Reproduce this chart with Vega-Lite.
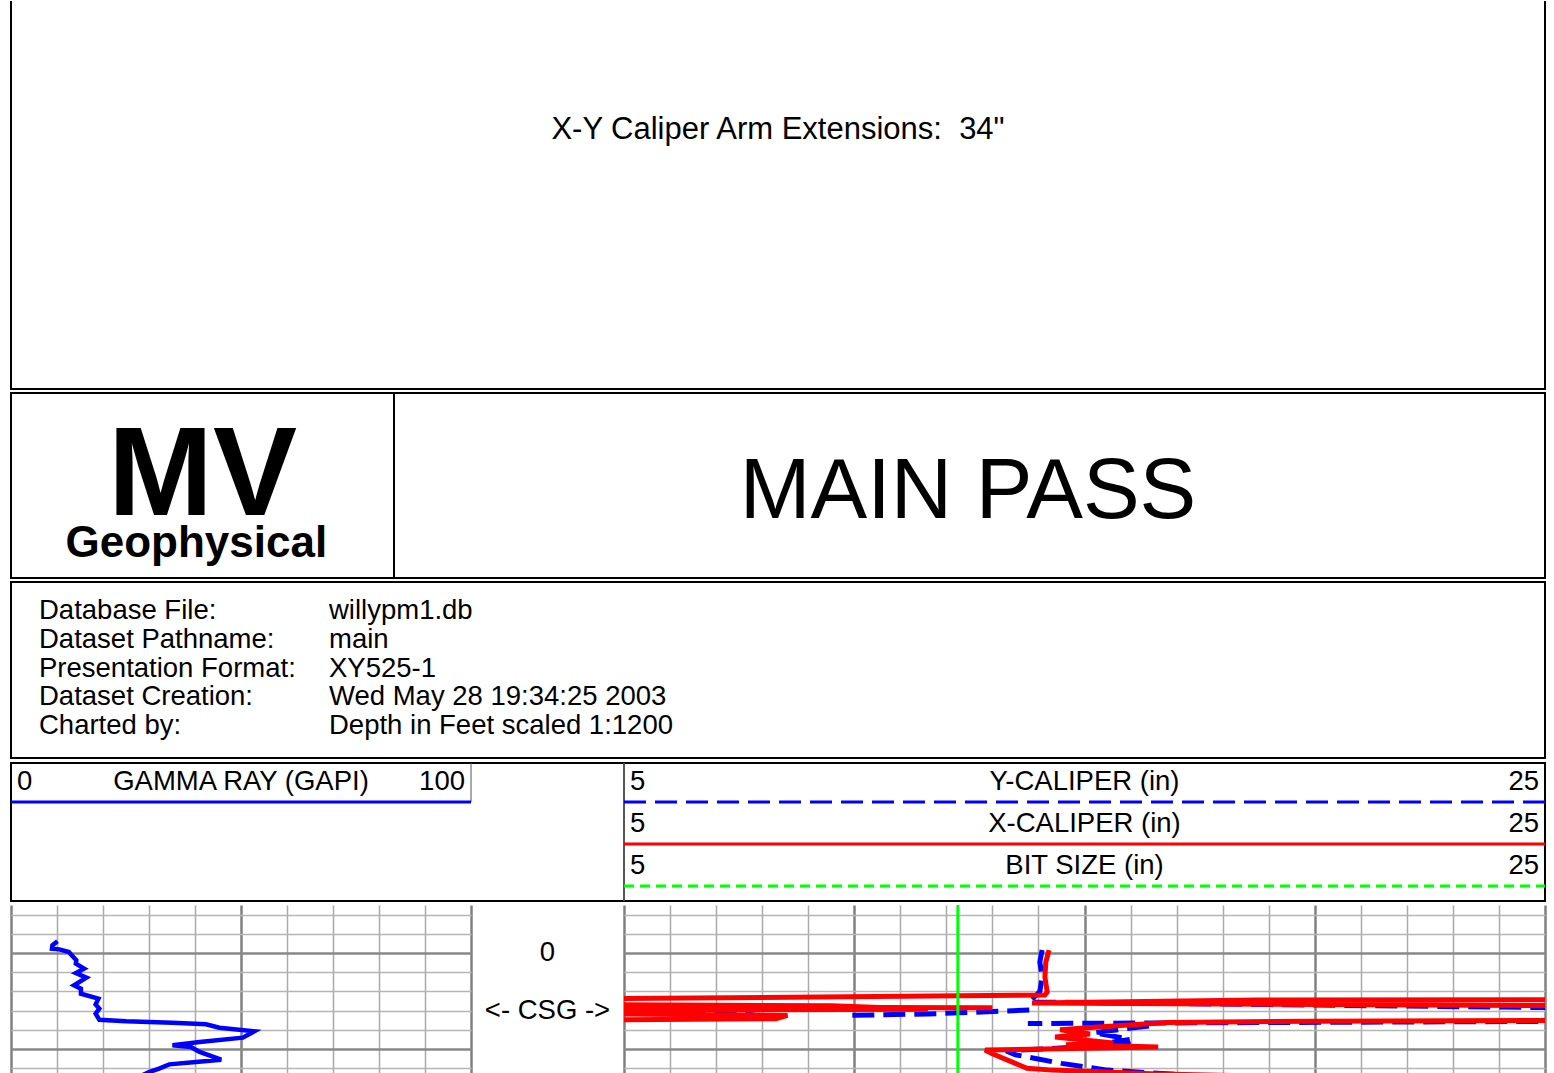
{
  "$schema": "https://vega.github.io/schema/vega-lite/v6.json",
  "background": "white",
  "padding": {"left": 8, "top": 0, "right": 0, "bottom": 0},
  "spacing": 2,
  "config": {
    "view": {"stroke": "black", "strokeWidth": 2},
    "font": "Liberation Sans",
    "text": {"font": "Liberation Sans", "color": "black"}
  },
  "datasets": {
    "legend": [
      {"track": "gamma", "row": 1, "curve": "GAMMA RAY (GAPI)", "lo": 0, "mid": 50, "hi": 100},
      {"track": "cal", "row": 1, "curve": "Y-CALIPER (in)", "lo": 5, "mid": 15, "hi": 25},
      {"track": "cal", "row": 2, "curve": "X-CALIPER (in)", "lo": 5, "mid": 15, "hi": 25},
      {"track": "cal", "row": 3, "curve": "BIT SIZE (in)", "lo": 5, "mid": 15, "hi": 25}
    ],
    "info": [
      {"line": 1, "label": "Database File:", "value": "willypm1.db"},
      {"line": 2, "label": "Dataset Pathname:", "value": "main"},
      {"line": 3, "label": "Presentation Format:", "value": "XY525-1"},
      {"line": 4, "label": "Dataset Creation:", "value": "Wed May 28 19:34:25 2003"},
      {"line": 5, "label": "Charted by:", "value": "Depth in Feet scaled 1:1200"}
    ],
    "gamma": [
      {"depth": -1.22, "gr": 10.1}, {"depth": -0.8, "gr": 9.0}, {"depth": -0.45, "gr": 8.9},
      {"depth": -0.38, "gr": 10.5}, {"depth": -0.1, "gr": 12.6}, {"depth": 0.35, "gr": 13.4},
      {"depth": 0.76, "gr": 14.2}, {"depth": 1.11, "gr": 14.1}, {"depth": 1.63, "gr": 15.9},
      {"depth": 2.08, "gr": 14.1}, {"depth": 2.57, "gr": 16.4}, {"depth": 3.37, "gr": 13.7},
      {"depth": 3.72, "gr": 15.2}, {"depth": 4.24, "gr": 15.2}, {"depth": 4.76, "gr": 19.0},
      {"depth": 5.35, "gr": 18.4}, {"depth": 5.8, "gr": 19.2}, {"depth": 6.32, "gr": 18.4},
      {"depth": 6.95, "gr": 19.2}, {"depth": 7.12, "gr": 25.0}, {"depth": 7.26, "gr": 35.1},
      {"depth": 7.43, "gr": 42.4}, {"depth": 7.78, "gr": 45.3}, {"depth": 8.16, "gr": 52.9},
      {"depth": 8.82, "gr": 50.4}, {"depth": 9.27, "gr": 41.0}, {"depth": 9.61, "gr": 35.1},
      {"depth": 9.79, "gr": 39.1}, {"depth": 10.31, "gr": 41.0}, {"depth": 11.11, "gr": 45.7},
      {"depth": 11.35, "gr": 40.2}, {"depth": 11.6, "gr": 34.4}, {"depth": 12.05, "gr": 32.2},
      {"depth": 12.4, "gr": 30.0}, {"depth": 12.74, "gr": 28.5}, {"depth": 13.2, "gr": 27.5}
    ],
    "caliper": [
      {"curve": "X-CALIPER", "seg": "r1", "depth": -0.31, "inches": 14.23},
      {"curve": "X-CALIPER", "seg": "r1", "depth": 0.94, "inches": 14.16},
      {"curve": "X-CALIPER", "seg": "r1", "depth": 2.5, "inches": 14.14},
      {"curve": "X-CALIPER", "seg": "r1", "depth": 4.06, "inches": 14.19},
      {"curve": "X-CALIPER", "seg": "r1", "depth": 4.38, "inches": 14.14},
      {"curve": "X-CALIPER", "seg": "r1", "depth": 4.8, "inches": 3.6},
      {"curve": "X-CALIPER", "seg": "r2", "depth": 4.85, "inches": 26.2},
      {"curve": "X-CALIPER", "seg": "r2", "depth": 4.9, "inches": 18.75},
      {"curve": "X-CALIPER", "seg": "r2", "depth": 5.2, "inches": 13.86},
      {"curve": "X-CALIPER", "seg": "r2", "depth": 5.5, "inches": 26.2},
      {"curve": "X-CALIPER", "seg": "r3", "depth": 5.35, "inches": 3.6},
      {"curve": "X-CALIPER", "seg": "r3", "depth": 5.5, "inches": 9.5},
      {"curve": "X-CALIPER", "seg": "r3", "depth": 5.85, "inches": 11.6},
      {"curve": "X-CALIPER", "seg": "r3", "depth": 6.0, "inches": 3.6},
      {"curve": "X-CALIPER", "seg": "r6", "depth": 5.62, "inches": 3.6},
      {"curve": "X-CALIPER", "seg": "r6", "depth": 5.7, "inches": 13.0},
      {"curve": "X-CALIPER", "seg": "r4", "depth": 6.3, "inches": 3.6},
      {"curve": "X-CALIPER", "seg": "r4", "depth": 6.5, "inches": 8.55},
      {"curve": "X-CALIPER", "seg": "r4", "depth": 6.85, "inches": 8.3},
      {"curve": "X-CALIPER", "seg": "r4", "depth": 7.0, "inches": 3.6},
      {"curve": "X-CALIPER", "seg": "r5", "depth": 7.0, "inches": 26.2},
      {"curve": "X-CALIPER", "seg": "r5", "depth": 7.1, "inches": 20.0},
      {"curve": "X-CALIPER", "seg": "r5", "depth": 7.25, "inches": 16.8},
      {"curve": "X-CALIPER", "seg": "r5", "depth": 7.7, "inches": 15.3},
      {"curve": "X-CALIPER", "seg": "r5", "depth": 8.0, "inches": 14.47},
      {"curve": "X-CALIPER", "seg": "r5", "depth": 8.44, "inches": 15.12},
      {"curve": "X-CALIPER", "seg": "r5", "depth": 8.75, "inches": 14.36},
      {"curve": "X-CALIPER", "seg": "r5", "depth": 9.38, "inches": 15.62},
      {"curve": "X-CALIPER", "seg": "r5", "depth": 9.55, "inches": 14.6},
      {"curve": "X-CALIPER", "seg": "r5", "depth": 9.8, "inches": 16.6},
      {"curve": "X-CALIPER", "seg": "r5", "depth": 10.1, "inches": 12.84},
      {"curve": "X-CALIPER", "seg": "r5", "depth": 10.5, "inches": 13.0},
      {"curve": "X-CALIPER", "seg": "r5", "depth": 12.0, "inches": 13.75},
      {"curve": "X-CALIPER", "seg": "r5", "depth": 12.2, "inches": 14.3},
      {"curve": "X-CALIPER", "seg": "r5", "depth": 12.6, "inches": 16.6},
      {"curve": "X-CALIPER", "seg": "r5", "depth": 12.85, "inches": 19.0},
      {"curve": "X-CALIPER", "seg": "r5", "depth": 13.2, "inches": 21.0},
      {"curve": "Y-CALIPER", "seg": "b1", "depth": -0.31, "inches": 14.08},
      {"curve": "Y-CALIPER", "seg": "b1", "depth": 0.94, "inches": 14.03},
      {"curve": "Y-CALIPER", "seg": "b1", "depth": 2.5, "inches": 14.08},
      {"curve": "Y-CALIPER", "seg": "b1", "depth": 4.0, "inches": 14.03},
      {"curve": "Y-CALIPER", "seg": "b1", "depth": 4.4, "inches": 13.95},
      {"curve": "Y-CALIPER", "seg": "b1", "depth": 5.1, "inches": 13.8},
      {"curve": "Y-CALIPER", "seg": "b1", "depth": 5.75, "inches": 26.2},
      {"curve": "Y-CALIPER", "seg": "b2", "depth": 5.9, "inches": 3.6},
      {"curve": "Y-CALIPER", "seg": "b2", "depth": 6.15, "inches": 7.4},
      {"curve": "Y-CALIPER", "seg": "b2", "depth": 6.75, "inches": 8.2},
      {"curve": "Y-CALIPER", "seg": "b3", "depth": 5.95, "inches": 13.8},
      {"curve": "Y-CALIPER", "seg": "b3", "depth": 6.35, "inches": 11.6},
      {"curve": "Y-CALIPER", "seg": "b3", "depth": 6.5, "inches": 9.8},
      {"curve": "Y-CALIPER", "seg": "b4", "depth": 7.1, "inches": 26.2},
      {"curve": "Y-CALIPER", "seg": "b4", "depth": 7.35, "inches": 13.77},
      {"curve": "Y-CALIPER", "seg": "b5", "depth": 7.6, "inches": 16.4},
      {"curve": "Y-CALIPER", "seg": "b5", "depth": 8.3, "inches": 15.2},
      {"curve": "Y-CALIPER", "seg": "b5", "depth": 9.0, "inches": 15.99},
      {"curve": "Y-CALIPER", "seg": "b5", "depth": 9.3, "inches": 15.6},
      {"curve": "Y-CALIPER", "seg": "b5", "depth": 9.5, "inches": 16.0},
      {"curve": "Y-CALIPER", "seg": "b5", "depth": 10.2, "inches": 13.3},
      {"curve": "Y-CALIPER", "seg": "b5", "depth": 10.6, "inches": 13.5},
      {"curve": "Y-CALIPER", "seg": "b5", "depth": 11.5, "inches": 14.5},
      {"curve": "Y-CALIPER", "seg": "b5", "depth": 12.2, "inches": 15.5},
      {"curve": "Y-CALIPER", "seg": "b5", "depth": 12.8, "inches": 17.5},
      {"curve": "Y-CALIPER", "seg": "b5", "depth": 13.2, "inches": 19.0},
      {"curve": "BIT SIZE", "seg": "g1", "depth": -5.5, "inches": 12.25},
      {"curve": "BIT SIZE", "seg": "g1", "depth": 13.5, "inches": 12.25}
    ]
  },
  "vconcat": [
    {
      "width": 1534,
      "height": 388,
      "view": {"strokeDash": [0, 1534, 2400, 10]},
      "data": {"values": [{"note": "X-Y Caliper Arm Extensions: \u00a034\""}]},
      "mark": {"type": "text", "fontSize": 31, "baseline": "middle", "align": "center"},
      "encoding": {
        "x": {"field": "note", "type": "nominal", "scale": {"type": "point", "align": 0.5}, "axis": null},
        "y": {"field": "note", "type": "nominal", "scale": {"type": "point", "align": 0.332}, "axis": null},
        "text": {"field": "note"}
      }
    },
    {
      "hconcat": [
        {
          "width": 383,
          "height": 185,
          "resolve": {"scale": {"x": "independent", "y": "independent"}},
          "layer": [
            {
              "data": {"values": [{"t": "MV"}]},
              "mark": {"type": "text", "fontSize": 126, "fontWeight": "bold", "align": "center", "baseline": "alphabetic"},
              "encoding": {
                "x": {"field": "t", "type": "nominal", "scale": {"type": "point", "align": 0.5}, "axis": null},
                "y": {"field": "t", "type": "nominal", "scale": {"type": "point", "align": 0.659}, "axis": null},
                "text": {"field": "t"}
              }
            },
            {
              "data": {"values": [{"t": "Geophysical"}]},
              "mark": {"type": "text", "fontSize": 44, "fontWeight": "bold", "align": "center", "baseline": "alphabetic"},
              "encoding": {
                "x": {"field": "t", "type": "nominal", "scale": {"type": "point", "align": 0.484}, "axis": null},
                "y": {"field": "t", "type": "nominal", "scale": {"type": "point", "align": 0.886}, "axis": null},
                "text": {"field": "t"}
              }
            }
          ]
        },
        {
          "width": 1151,
          "height": 185,
          "data": {"values": [{"t": "MAIN PASS"}]},
          "mark": {"type": "text", "fontSize": 85, "align": "center", "baseline": "alphabetic"},
          "encoding": {
            "x": {"field": "t", "type": "nominal", "scale": {"type": "point", "align": 0.4987}, "axis": null},
            "y": {"field": "t", "type": "nominal", "scale": {"type": "point", "align": 0.676}, "axis": null},
            "text": {"field": "t"}
          }
        }
      ],
      "spacing": 0,
      "bounds": "flush"
    },
    {
      "width": 1534,
      "height": 176,
      "data": {"name": "info"},
      "transform": [{"fold": ["label", "value"], "as": ["col", "txt"]}],
      "mark": {"type": "text", "fontSize": 27.5, "align": "left", "baseline": "middle"},
      "encoding": {
        "x": {"field": "col", "type": "nominal", "scale": {"type": "point", "domain": ["label", "value"], "range": [28, 318], "padding": 0}, "axis": null},
        "y": {"field": "line", "type": "quantitative", "scale": {"domain": [-0.0087, 6.113], "reverse": true}, "axis": null},
        "text": {"field": "txt"}
      }
    },
    {
      "width": 1534,
      "height": 138,
      "data": {"name": "legend"},
      "resolve": {"scale": {"x": "independent"}},
      "layer": [
        {
          "transform": [{"filter": "datum.track === 'gamma'"}],
          "mark": {"type": "rule", "color": "#555555", "strokeWidth": 1},
          "encoding": {
            "x": {"field": "hi", "type": "quantitative", "scale": {"domain": [0, 100], "range": [0, 460]}, "axis": null},
            "y": {"field": "row", "type": "quantitative", "scale": {"domain": [0.0714, 3.357], "reverse": true}, "axis": null},
            "y2": {"datum": 0.0714}
          }
        },
        {
          "transform": [{"filter": "datum.track === 'gamma'"}],
          "mark": {"type": "rule", "strokeWidth": 3},
          "encoding": {
            "x": {"field": "lo", "type": "quantitative", "scale": {"domain": [0, 100], "range": [0, 460]}, "axis": null},
            "x2": {"field": "hi"},
            "y": {"field": "row", "type": "quantitative", "scale": {"domain": [0.0714, 3.357], "reverse": true}, "axis": null},
            "color": {"field": "curve", "type": "nominal", "scale": {"domain": ["GAMMA RAY (GAPI)", "Y-CALIPER (in)", "X-CALIPER (in)", "BIT SIZE (in)"], "range": ["#0000ff", "#0000ff", "#ff0000", "#00ff00"]}, "legend": null},
            "strokeDash": {"field": "curve", "type": "nominal", "scale": {"domain": ["GAMMA RAY (GAPI)", "Y-CALIPER (in)", "X-CALIPER (in)", "BIT SIZE (in)"], "range": [[1, 0], [22, 9], [1, 0], [10, 6]]}, "legend": null}
          }
        },
        {
          "transform": [{"filter": "datum.track === 'gamma'"}],
          "mark": {"type": "text", "fontSize": 27.5, "align": "left", "baseline": "middle", "dx": 6, "dy": -20},
          "encoding": {
            "x": {"field": "lo", "type": "quantitative", "scale": {"domain": [0, 100], "range": [0, 460]}, "axis": null},
            "y": {"field": "row", "type": "quantitative", "scale": {"domain": [0.0714, 3.357], "reverse": true}, "axis": null},
            "text": {"field": "lo"}
          }
        },
        {
          "transform": [{"filter": "datum.track === 'gamma'"}],
          "mark": {"type": "text", "fontSize": 27.5, "align": "center", "baseline": "middle", "dy": -20},
          "encoding": {
            "x": {"field": "mid", "type": "quantitative", "scale": {"domain": [0, 100], "range": [0, 460]}, "axis": null},
            "y": {"field": "row", "type": "quantitative", "scale": {"domain": [0.0714, 3.357], "reverse": true}, "axis": null},
            "text": {"field": "curve"}
          }
        },
        {
          "transform": [{"filter": "datum.track === 'gamma'"}],
          "mark": {"type": "text", "fontSize": 27.5, "align": "right", "baseline": "middle", "dx": -6, "dy": -20},
          "encoding": {
            "x": {"field": "hi", "type": "quantitative", "scale": {"domain": [0, 100], "range": [0, 460]}, "axis": null},
            "y": {"field": "row", "type": "quantitative", "scale": {"domain": [0.0714, 3.357], "reverse": true}, "axis": null},
            "text": {"field": "hi"}
          }
        },
        {
          "transform": [{"filter": "datum.track === 'cal'"}],
          "mark": {"type": "rule", "color": "#555555", "strokeWidth": 1.5},
          "encoding": {
            "x": {"field": "lo", "type": "quantitative", "scale": {"domain": [5, 25], "range": [613, 1534]}, "axis": null}
          }
        },
        {
          "transform": [{"filter": "datum.track === 'cal'"}],
          "mark": {"type": "rule", "strokeWidth": 3},
          "encoding": {
            "x": {"field": "lo", "type": "quantitative", "scale": {"domain": [5, 25], "range": [613, 1534]}, "axis": null},
            "x2": {"field": "hi"},
            "y": {"field": "row", "type": "quantitative", "scale": {"domain": [0.0714, 3.357], "reverse": true}, "axis": null},
            "color": {"field": "curve", "type": "nominal", "scale": {"domain": ["GAMMA RAY (GAPI)", "Y-CALIPER (in)", "X-CALIPER (in)", "BIT SIZE (in)"], "range": ["#0000ff", "#0000ff", "#ff0000", "#00ff00"]}, "legend": null},
            "strokeDash": {"field": "curve", "type": "nominal", "scale": {"domain": ["GAMMA RAY (GAPI)", "Y-CALIPER (in)", "X-CALIPER (in)", "BIT SIZE (in)"], "range": [[1, 0], [22, 9], [1, 0], [10, 6]]}, "legend": null}
          }
        },
        {
          "transform": [{"filter": "datum.track === 'cal'"}],
          "mark": {"type": "text", "fontSize": 27.5, "align": "left", "baseline": "middle", "dx": 6, "dy": -20},
          "encoding": {
            "x": {"field": "lo", "type": "quantitative", "scale": {"domain": [5, 25], "range": [613, 1534]}, "axis": null},
            "y": {"field": "row", "type": "quantitative", "scale": {"domain": [0.0714, 3.357], "reverse": true}, "axis": null},
            "text": {"field": "lo"}
          }
        },
        {
          "transform": [{"filter": "datum.track === 'cal'"}],
          "mark": {"type": "text", "fontSize": 27.5, "align": "center", "baseline": "middle", "dy": -20},
          "encoding": {
            "x": {"field": "mid", "type": "quantitative", "scale": {"domain": [5, 25], "range": [613, 1534]}, "axis": null},
            "y": {"field": "row", "type": "quantitative", "scale": {"domain": [0.0714, 3.357], "reverse": true}, "axis": null},
            "text": {"field": "curve"}
          }
        },
        {
          "transform": [{"filter": "datum.track === 'cal'"}],
          "mark": {"type": "text", "fontSize": 27.5, "align": "right", "baseline": "middle", "dx": -6, "dy": -20},
          "encoding": {
            "x": {"field": "hi", "type": "quantitative", "scale": {"domain": [5, 25], "range": [613, 1534]}, "axis": null},
            "y": {"field": "row", "type": "quantitative", "scale": {"domain": [0.0714, 3.357], "reverse": true}, "axis": null},
            "text": {"field": "hi"}
          }
        }
      ]
    },
    {
      "hconcat": [
        {
          "width": 460,
          "height": 171,
          "view": {"stroke": null},
          "data": {"name": "gamma"},
          "mark": {"type": "line", "color": "#0000ff", "strokeWidth": 4.5, "clip": true},
          "encoding": {
            "x": {
              "field": "gr", "type": "quantitative", "scale": {"domain": [0, 100]},
              "axis": {
                "orient": "top", "values": [0, 10, 20, 30, 40, 50, 60, 70, 80, 90, 100],
                "grid": true, "labels": false, "ticks": false, "domain": false, "title": null, "gridOpacity": 1,
                "gridColor": {"condition": {"test": "datum.value % 50 === 0", "value": "#808080"}, "value": "#a9a9a9"},
                "gridWidth": {"condition": {"test": "datum.value % 50 === 0", "value": 2.5}, "value": 1.5}
              }
            },
            "y": {
              "field": "depth", "type": "quantitative", "scale": {"domain": [-5, 12.8125], "reverse": true},
              "axis": {
                "values": [-4, -2, 0, 2, 4, 6, 8, 10, 12],
                "grid": true, "labels": false, "ticks": false, "domain": false, "title": null, "gridOpacity": 1,
                "gridColor": {"condition": {"test": "datum.value % 10 === 0", "value": "#888888"}, "value": "#b5b5b5"},
                "gridWidth": {"condition": {"test": "datum.value % 10 === 0", "value": 2.5}, "value": 1.5}
              }
            },
            "order": {"field": "depth", "type": "quantitative"}
          }
        },
        {
          "width": 153,
          "height": 171,
          "view": {"stroke": null},
          "data": {"values": [{"depth": 0, "label": "0", "col": "depth"}, {"depth": 6, "label": "<- CSG ->", "col": "depth"}]},
          "mark": {"type": "text", "fontSize": 27.5, "align": "center", "baseline": "middle"},
          "encoding": {
            "x": {"field": "col", "type": "nominal", "scale": {"type": "point", "align": 0.5}, "axis": null},
            "y": {"field": "depth", "type": "quantitative", "scale": {"domain": [-5, 12.8125], "reverse": true}, "axis": null},
            "text": {"field": "label"}
          }
        },
        {
          "width": 921,
          "height": 171,
          "view": {"stroke": null},
          "data": {"name": "caliper"},
          "encoding": {
            "x": {
              "field": "inches", "type": "quantitative", "scale": {"domain": [5, 25]},
              "axis": {
                "orient": "top", "values": [5, 6, 7, 8, 9, 10, 11, 12, 13, 14, 15, 16, 17, 18, 19, 20, 21, 22, 23, 24, 25],
                "grid": true, "labels": false, "ticks": false, "domain": false, "title": null, "gridOpacity": 1,
                "gridColor": {"condition": {"test": "datum.value % 5 === 0", "value": "#808080"}, "value": "#a9a9a9"},
                "gridWidth": {"condition": {"test": "datum.value % 5 === 0", "value": 2.5}, "value": 1.5}
              }
            },
            "y": {
              "field": "depth", "type": "quantitative", "scale": {"domain": [-5, 12.8125], "reverse": true},
              "axis": {
                "values": [-4, -2, 0, 2, 4, 6, 8, 10, 12],
                "grid": true, "labels": false, "ticks": false, "domain": false, "title": null, "gridOpacity": 1,
                "gridColor": {"condition": {"test": "datum.value % 10 === 0", "value": "#888888"}, "value": "#b5b5b5"},
                "gridWidth": {"condition": {"test": "datum.value % 10 === 0", "value": 2.5}, "value": 1.5}
              }
            },
            "order": {"field": "depth", "type": "quantitative"},
            "detail": {"field": "seg", "type": "nominal"}
          },
          "layer": [
            {
              "transform": [{"filter": "datum.curve === 'Y-CALIPER'"}],
              "mark": {"type": "line", "color": "#0000ff", "strokeWidth": 5, "strokeDash": [22, 9], "clip": true}
            },
            {
              "transform": [{"filter": "datum.curve === 'X-CALIPER'"}],
              "mark": {"type": "line", "color": "#ff0000", "strokeWidth": 5, "clip": true}
            },
            {
              "transform": [{"filter": "datum.curve === 'BIT SIZE'"}],
              "mark": {"type": "line", "color": "#00ff00", "strokeWidth": 3, "clip": true}
            }
          ]
        }
      ],
      "spacing": 0,
      "bounds": "flush"
    }
  ]
}
